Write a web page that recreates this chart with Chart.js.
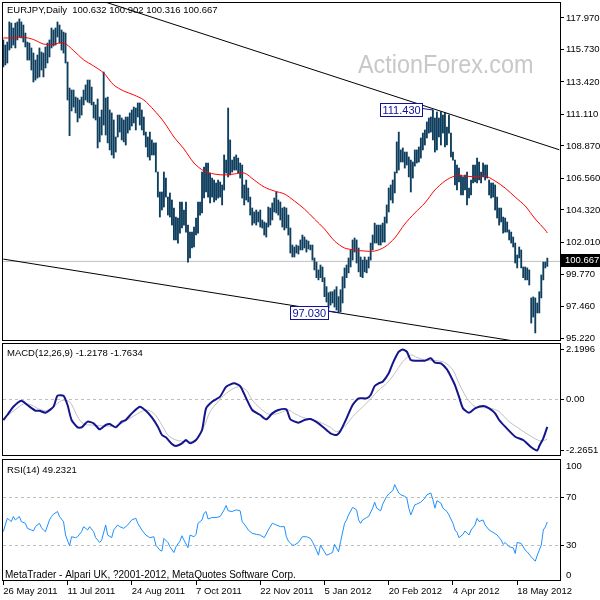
<!DOCTYPE html>
<html><head><meta charset="utf-8">
<script src="https://cdn.jsdelivr.net/npm/chart.js@4.4.1/dist/chart.umd.min.js"></script>
<style>
html,body{margin:0;padding:0;background:#fff;width:600px;height:600px;overflow:hidden}
canvas{position:absolute;left:0}
#main{top:0px}
#macd{top:340px}
#rsi{top:458px}
</style></head><body>
<canvas id="main" width="600" height="348"></canvas>
<canvas id="macd" width="600" height="118"></canvas>
<canvas id="rsi" width="600" height="142"></canvas>
<script>
// ---------- DATA ----------
const symbol = 'EURJPY,Daily';
const lastOHLC = [100.632, 100.902, 100.316, 100.667];
const highs = [
116.41,116.05,116.26,117.69,117.61,117.26,117.61,117.69,117.90,117.69,
117.47,116.90,116.26,116.19,115.84,115.48,114.98,115.34,115.84,115.55,
115.48,115.91,116.19,116.41,117.26,117.12,117.26,117.69,117.47,117.12,
116.97,116.90,114.84,112.99,112.85,112.85,112.35,112.28,112.14,112.35,
112.85,113.21,113.56,113.56,113.06,111.99,111.79,112.21,110.93,111.43,
114.13,112.28,112.35,111.43,111.22,110.72,109.51,111.07,111.07,110.86,
110.72,110.93,110.93,111.22,111.43,111.64,111.57,111.93,111.93,111.43,
110.93,109.86,109.51,109.86,109.30,109.09,109.09,107.02,105.60,105.60,
107.02,106.59,105.24,105.53,105.03,104.46,103.82,103.75,104.89,104.89,
104.32,104.89,103.25,102.75,102.75,103.11,103.75,104.89,104.89,107.02,
107.37,107.66,107.66,106.95,106.59,106.45,106.24,106.45,106.31,106.10,
108.23,107.87,111.57,109.30,107.87,108.09,108.23,108.01,107.66,107.52,
106.10,106.45,105.88,105.24,104.46,104.18,104.32,104.18,104.32,103.61,
103.47,103.39,104.53,104.46,104.82,105.17,105.60,105.03,104.89,104.46,
104.53,104.46,103.96,103.04,101.83,101.69,101.83,101.76,102.19,102.54,
102.40,102.19,102.11,101.83,101.83,100.91,100.62,100.06,100.41,100.27,
99.51,98.87,98.44,98.51,98.51,98.65,98.87,98.16,98.65,99.58,
100.20,100.41,100.91,101.48,102.19,102.33,102.19,101.62,100.98,100.76,
100.98,100.76,100.98,101.97,102.54,103.39,103.25,103.25,103.25,103.39,
103.82,104.68,105.88,106.10,106.45,107.02,109.16,109.86,108.59,108.73,
108.44,108.44,108.09,107.87,107.73,108.59,108.59,108.80,109.44,109.79,
110.01,110.58,110.86,110.93,111.43,110.86,111.29,110.86,111.29,111.07,
111.22,110.22,111.07,109.79,108.44,107.87,107.52,107.30,106.81,106.67,
106.81,107.02,105.88,106.45,107.52,107.52,108.01,107.73,107.02,107.66,
107.52,107.52,106.45,106.24,106.24,106.10,105.24,104.46,104.46,103.82,
103.75,103.47,102.90,102.75,102.40,101.97,101.12,101.69,101.48,100.27,
100.27,100.20,100.06,98.07,98.14,98.07,97.71,98.51,99.70,100.62,
100.62,100.902];
const lows = [
114.49,114.63,114.77,115.69,115.84,116.05,115.84,116.41,116.62,116.55,
116.26,115.91,114.98,114.98,114.27,113.42,113.56,113.70,113.78,114.27,
113.78,114.42,114.77,115.20,115.84,115.98,116.05,116.62,116.19,115.69,
115.48,114.77,112.14,109.60,111.36,111.64,111.22,110.58,110.86,111.07,
111.79,112.14,111.99,111.93,111.79,110.86,110.72,108.73,109.16,109.65,
110.36,109.65,109.09,108.59,108.23,108.01,108.44,109.51,109.86,109.30,
109.16,108.94,109.79,110.01,110.29,110.51,110.01,110.93,110.36,110.01,
109.65,108.80,108.09,107.87,108.23,108.23,107.02,105.24,103.82,104.32,
104.53,105.24,103.96,103.82,103.25,102.19,102.19,101.97,102.68,103.04,
103.25,102.75,100.62,100.91,101.62,101.69,102.54,102.68,103.96,104.11,
105.17,105.60,105.24,104.82,105.24,104.89,105.03,105.17,105.24,104.68,
105.74,106.95,106.67,106.81,107.02,107.16,107.16,106.95,106.59,105.17,
104.68,105.03,104.89,103.96,103.25,103.39,103.25,103.47,103.11,103.04,
102.54,102.40,103.11,103.25,103.61,104.18,104.11,103.96,103.61,103.11,
102.90,103.04,102.54,101.26,100.98,100.98,101.26,101.19,101.48,101.48,
101.62,101.33,101.55,101.48,100.76,100.06,99.51,99.35,99.51,99.22,
98.16,97.78,97.35,97.56,97.71,97.42,97.21,97.03,97.07,97.71,
98.78,99.51,99.85,100.27,100.76,101.33,100.55,99.92,99.58,99.51,
99.92,99.85,100.20,100.76,101.48,101.97,101.97,101.83,101.83,102.04,
102.04,103.39,104.18,105.03,104.82,105.53,106.95,107.16,107.73,107.73,
107.30,107.52,106.67,105.60,106.59,107.44,107.66,107.73,108.01,108.59,
108.94,109.44,109.79,109.86,109.30,108.44,108.59,109.51,108.94,109.79,
108.80,108.94,109.79,108.09,107.87,106.10,105.74,106.31,105.39,105.39,
105.74,104.68,105.17,105.39,106.24,106.31,106.24,106.45,106.24,106.67,
106.45,106.59,105.39,105.17,105.24,104.32,103.75,103.25,103.47,102.68,
102.75,102.75,102.19,101.97,101.69,100.55,100.20,100.91,100.20,99.51,
99.35,99.35,98.99,96.28,96.71,95.58,97.00,97.00,98.07,99.35,
100.20,100.316];

const maIdx = [0,5,10,15,20,25,30,35,40,45,50,55,60,65,70,75,80,85,90,95,100,105,110,115,120,125,130,135,140,145,150,155,160,165,170,175,180,185,190,195,200,205,210,215,220,225,230,235,240,245,250,255,260,265,270,271];
const maVal = [116.55,116.55,116.60,116.44,116.12,116.10,116.21,115.65,115.00,114.56,114.06,113.21,112.78,112.50,112.14,111.43,110.58,109.51,108.66,107.66,107.09,106.88,106.81,106.88,106.95,106.45,105.95,105.67,105.46,104.96,104.39,103.68,102.97,102.12,101.62,101.48,101.40,101.40,101.69,102.33,103.32,104.11,104.82,105.74,106.38,106.74,106.74,106.67,106.74,106.38,105.88,105.24,104.60,103.68,102.90,102.68];

const upperLineIdx = [30, 277];
const upperLineVal = [120.07, 108.60];
const lowerLineIdx = [0, 277];
const lowerLineVal = [100.83, 94.49];

const markHighIdx = 214, markHighText = '111.430';
const markLowIdx = 167, markLowText = '97.030';

const priceTicks = [117.970,115.730,113.420,111.110,108.870,106.560,104.320,102.010,99.770,97.460,95.220];

const macdIdx = [0,2,5,9,12,16,18,21,25,27,30,32,34,37,39,42,45,48,51,53,56,59,61,64,68,71,74,77,79,81,84,86,89,91,93,96,99,101,104,108,111,115,118,121,124,128,131,134,137,141,143,147,150,153,157,160,163,166,168,171,174,177,181,183,185,187,189,192,194,197,199,201,203,206,210,213,215,218,221,223,225,227,229,232,235,239,242,245,247,250,255,259,263,266,267,269,271];
const macdVal = [-0.917,-0.696,-0.329,-0.063,-0.254,-0.505,-0.505,-0.593,-0.329,0.158,0.158,-0.254,-0.917,-1.242,-1.242,-0.990,-1.064,-1.330,-1.138,-1.094,-1.242,-0.990,-0.917,-0.623,-0.329,-0.505,-0.800,-1.212,-1.580,-1.684,-1.978,-2.067,-1.949,-1.801,-1.949,-1.801,-1.360,-0.402,-0.107,0.114,0.556,0.703,0.586,0.041,-0.475,-0.696,-0.888,-0.623,-0.475,-0.446,-0.888,-1.035,-0.917,-0.873,-1.064,-1.286,-1.507,-1.580,-1.389,-0.844,-0.254,0.041,0.041,0.188,0.586,0.703,0.777,1.146,1.589,2.103,2.200,2.103,1.735,1.705,1.705,1.809,1.617,1.589,1.323,0.998,0.630,0.114,-0.402,-0.593,-0.402,-0.298,-0.402,-0.623,-0.917,-1.212,-1.654,-1.801,-2.124,-2.265,-2.067,-1.728,-1.218];
const sigIdx = [0,4,10,14,17,21,25,29,33,37,40,44,50,56,59,65,71,75,79,82,86,92,96,100,103,107,111,117,121,124,128,132,136,142,145,149,155,159,163,166,170,174,180,184,187,191,195,199,203,206,210,216,220,224,227,231,235,239,243,247,252,258,264,268,271];
const sigVal = [-0.844,-0.593,-0.210,-0.254,-0.402,-0.505,-0.329,-0.063,-0.107,-0.770,-1.094,-1.138,-1.182,-1.182,-1.064,-0.741,-0.475,-0.623,-1.138,-1.580,-1.801,-1.875,-1.801,-1.212,-0.549,-0.107,0.261,0.556,0.409,-0.033,-0.402,-0.652,-0.652,-0.475,-0.623,-0.800,-0.917,-1.064,-1.242,-1.433,-1.212,-0.770,-0.254,0.114,0.409,0.703,1.146,1.661,1.956,1.853,1.735,1.705,1.617,1.293,0.703,0.041,-0.329,-0.373,-0.402,-0.549,-0.990,-1.360,-1.700,-1.850,-1.763];
const macdTicks = [2.1996, 0, -2.2651];
const macdTickLabels = ['2.1996', '0.00', '-2.2651'];
const macdTitle = 'MACD(12,26,9) -1.2178 -1.7634';

const rsiIdx = [0,1,2,4,5,6,8,9,11,12,14,15,16,18,19,20,21,23,24,25,27,28,30,31,33,34,36,37,39,40,42,43,45,46,48,49,51,52,54,55,57,58,60,62,64,66,67,69,71,73,75,76,78,79,80,82,83,85,86,88,89,90,92,93,95,96,97,99,100,101,102,104,106,108,110,111,112,114,116,118,119,121,122,124,126,128,130,132,134,136,138,140,141,142,144,145,147,149,151,153,154,156,157,158,160,161,163,164,165,167,168,170,171,172,174,176,177,178,179,181,182,184,185,186,188,189,191,192,194,195,197,198,200,201,202,203,205,206,208,210,211,213,214,215,216,218,219,221,222,224,225,226,227,229,230,232,233,235,236,237,239,240,242,244,246,248,249,250,252,254,255,256,258,260,261,263,265,266,268,269,270,271];
const rsiVal = [41.1,46.7,52.3,49.5,53.7,50.9,53.7,49.5,48.1,43.9,42.5,41.7,45.3,48.1,44.5,42.5,41.1,50.9,53.7,55.7,57.9,53.7,49.5,38.3,29.3,36.9,36.1,36.9,41.1,45.3,42.5,45.3,41.1,36.1,32.1,34.1,46.7,38.3,36.1,42.5,46.7,45.3,43.9,46.7,50.9,52.3,48.1,42.5,38.3,36.1,36.9,29.9,25.7,24.9,35.5,32.1,28.5,23.7,28.5,33.3,37.7,34.1,27.7,38.3,36.9,38.9,48.1,50.9,56.5,57.9,51.7,52.9,52.9,53.7,59.3,62.9,58.5,57.9,59.3,58.5,49.5,45.3,42.5,39.7,38.9,38.3,36.1,42.5,48.1,46.7,45.3,45.3,36.9,33.3,29.9,29.9,32.1,36.9,36.9,35.5,32.7,25.7,21.5,29.9,24.3,21.5,22.9,23.7,30.5,24.3,32.7,48.1,50.9,55.1,61.3,59.3,50.9,48.1,50.9,52.9,53.7,60.7,65.7,60.7,58.5,64.1,70.5,72.5,75.3,80.3,73.3,71.9,70.5,69.1,60.7,55.1,63.5,64.1,65.7,69.1,71.9,73.3,67.7,60.7,66.9,64.9,60.7,57.9,55.1,48.1,42.5,40.5,36.1,38.9,41.7,38.3,42.5,46.7,52.3,49.5,50.9,46.7,42.5,40.5,38.3,34.1,30.5,32.1,28.5,27.7,22.9,32.1,31.3,25.7,24.3,20.1,16.5,21.5,29.9,42.5,45.0,49.23];
const rsiTicks = [95.25, 70, 30, 5];
const rsiTickLabels = ['100', '70', '30', '0'];
const rsiLevels = [70, 30];
const rsiTitle = 'RSI(14) 49.2321';

const dateTickIdx = [0,32,64,96,128,160,192,224,256];
const dateTickLabels = ['26 May 2011','11 Jul 2011','24 Aug 2011','7 Oct 2011','22 Nov 2011','5 Jan 2012','20 Feb 2012','4 Apr 2012','18 May 2012'];
const footer = 'MetaTrader - Alpari UK, ?2001-2012, MetaQuotes Software Corp.';
const watermark = 'ActionForex.com';

// ---------- CONFIG ----------
const FONT = "'Liberation Sans', Arial, Helvetica, sans-serif";
const XMIN = -0.65, XMAX = 277.32;
const PMIN = 95.007, PMAX = 119.107;
const MMIN = -2.508, MMAX = 2.487;
const RMIN = 0, RMAX = 101.67;
const pts = (xs, ys) => xs.map((x, i) => ({x, y: ys[i]}));
const noPad = s => { s.paddingTop = 0; s.paddingBottom = 0; s.paddingLeft = 0; s.paddingRight = 0; };

function hiddenX() { return {type:'linear', min:XMIN, max:XMAX, offset:false, display:false}; }
function rightY(min, max, tickVals, fmt, tickColor) {
  return {
    position:'right', min, max, beginAtZero:false,
    afterBuildTicks: s => { s.ticks = tickVals.map(v => ({value:v})); },
    afterFit: s => { s.width = 40; noPad(s); },
    ticks: {callback: fmt, color:'#000', font:{family:FONT, size:9.5}, padding:2, autoSkip:false, maxRotation:0},
    grid: {drawOnChartArea:false, drawTicks:true, tickLength:4, color:'#000', tickColor: tickColor || '#000'},
    border: {display:false}
  };
}
const frame = {
  id:'frame',
  afterDraw(chart) {
    const {ctx, chartArea:a} = chart;
    ctx.save(); ctx.strokeStyle = '#000'; ctx.lineWidth = 1;
    ctx.strokeRect(a.left + 0.5, a.top + 0.5, a.right - a.left, a.bottom - a.top - 1);
    ctx.restore();
  }
};
function levels(vals) {
  return {
    id:'levels',
    beforeDatasetsDraw(chart) {
      const {ctx, chartArea:a, scales:{y}} = chart;
      ctx.save(); ctx.strokeStyle = '#c0c0c0'; ctx.lineWidth = 1; ctx.setLineDash([3,3]);
      vals.forEach(v => { const py = Math.round(y.getPixelForValue(v)) + 0.5; ctx.beginPath(); ctx.moveTo(a.left + 1, py); ctx.lineTo(a.right, py); ctx.stroke(); });
      ctx.restore();
    }
  };
}
function label(text, x, y, size) {
  return {
    id:'lbl' + Math.random(),
    afterDraw(chart) {
      const ctx = chart.ctx; ctx.save(); ctx.fillStyle = '#000'; ctx.font = size + 'px ' + FONT;
      ctx.textBaseline = 'middle'; ctx.textAlign = 'left'; ctx.fillText(text, x, y); ctx.restore();
    }
  };
}
function tag(ctx, text, bx, by) {
  ctx.save();
  ctx.font = '11px ' + FONT;
  const w = Math.round(ctx.measureText(text).width + 4), h = 13;
  const right = Math.round(bx - 11), left = right - w, top = Math.round(by - h / 2);
  ctx.fillStyle = '#fff'; ctx.fillRect(left, top, w, h);
  ctx.strokeStyle = '#10109a'; ctx.lineWidth = 1;
  ctx.strokeRect(left + 0.5, top + 0.5, w, h);
  ctx.beginPath(); ctx.moveTo(right + 0.5, by - 1.5); ctx.lineTo(bx, by); ctx.stroke();
  ctx.fillStyle = '#10109a'; ctx.textBaseline = 'middle'; ctx.fillText(text, left + 2.5, top + h / 2 + 1);
  ctx.restore();
}
const common = {responsive:false, animation:false, devicePixelRatio:1, events:[],
  plugins:{legend:{display:false}, tooltip:{enabled:false}}};

// ---------- MAIN PANEL ----------
const mainPlugin = {
  id:'mainDeco',
  beforeDatasetsDraw(chart) {
    const ctx = chart.ctx;
    ctx.save(); ctx.fillStyle = '#c8c8c8'; ctx.font = '26px ' + FONT; ctx.textBaseline = 'alphabetic';
    ctx.translate(358, 73); ctx.scale(0.9, 1); ctx.fillText(watermark, 0, 0); ctx.restore();
    ctx.save(); ctx.fillStyle = '#000'; ctx.font = '9.5px ' + FONT; ctx.textBaseline = 'middle';
    ctx.fillText(symbol + '  ' + lastOHLC.map(v => v.toFixed(3)).join(' '), 7, 10.5); ctx.restore();
  },
  afterDatasetsDraw(chart) {
    const {ctx, scales:{x, y}} = chart;
    tag(ctx, markHighText, x.getPixelForValue(markHighIdx), y.getPixelForValue(highs[markHighIdx]));
    tag(ctx, markLowText, x.getPixelForValue(markLowIdx), y.getPixelForValue(lows[markLowIdx]));
  },
  afterDraw(chart) {
    const {ctx, chartArea:a, scales:{y}} = chart;
    const py = y.getPixelForValue(lastOHLC[3]);
    ctx.save(); ctx.fillStyle = '#000'; ctx.fillRect(a.right + 1, Math.round(py) - 7, 39, 13);
    ctx.fillStyle = '#fff'; ctx.font = '9.5px ' + FONT; ctx.textBaseline = 'middle';
    ctx.fillText(lastOHLC[3].toFixed(3), a.right + 5, Math.round(py) - 0.5); ctx.restore();
  }
};
new Chart(document.getElementById('main'), {
  type:'bar',
  data:{datasets:[
    {type:'line', data:[{x:XMIN, y:lastOHLC[3]}, {x:XMAX, y:lastOHLC[3]}], borderColor:'#c0c0c0', borderWidth:1, pointRadius:0, order:10},
    {type:'bar', data:highs.map((h, i) => ({x:i, y:[lows[i], h]})), backgroundColor:'#0e3e5e', borderWidth:0, barThickness:1.2, order:3},
    {type:'line', data:pts(maIdx, maVal), borderColor:'#ff0000', borderWidth:1, pointRadius:0, tension:0.3, order:1},
    {type:'line', data:pts(upperLineIdx, upperLineVal), borderColor:'#000', borderWidth:1, pointRadius:0, order:0},
    {type:'line', data:pts(lowerLineIdx, lowerLineVal), borderColor:'#000', borderWidth:1, pointRadius:0, order:0}
  ]},
  options:Object.assign({}, common, {
    layout:{padding:{left:2, top:2, right:0, bottom:7}},
    scales:{x:hiddenX(), y:rightY(PMIN, PMAX, priceTicks, v => v.toFixed(3))}
  }),
  plugins:[mainPlugin, frame]
});

// ---------- MACD PANEL ----------
new Chart(document.getElementById('macd'), {
  type:'line',
  data:{datasets:[
    {data:pts(sigIdx, sigVal), borderColor:'#c0c0c0', borderWidth:1, pointRadius:0, tension:0.3, order:2},
    {data:pts(macdIdx, macdVal), borderColor:'#14148c', borderWidth:2, pointRadius:0, tension:0.2, order:1}
  ]},
  options:Object.assign({}, common, {
    layout:{padding:{left:2, top:3, right:0, bottom:2}},
    scales:{x:hiddenX(), y:rightY(MMIN, MMAX, macdTicks, v => macdTickLabels[macdTicks.indexOf(v)])}
  }),
  plugins:[levels([0]), frame, label(macdTitle, 7, 13, 9.5)]
});

// ---------- RSI PANEL ----------
new Chart(document.getElementById('rsi'), {
  type:'line',
  data:{datasets:[
    {data:pts(rsiIdx, rsiVal), borderColor:'#1e90ff', borderWidth:1, pointRadius:0, tension:0}
  ]},
  options:Object.assign({}, common, {
    layout:{padding:{left:2, top:1, right:0, bottom:0}},
    scales:{
      x:{type:'linear', min:XMIN, max:XMAX, offset:false, position:'bottom',
        afterBuildTicks: s => { s.ticks = dateTickIdx.map(v => ({value:v})); },
        afterFit: s => { s.height = 19; noPad(s); },
        ticks:{callback: v => dateTickLabels[dateTickIdx.indexOf(v)], align:'start', maxRotation:0, minRotation:0, autoSkip:false, padding:1, color:'#000', font:{family:FONT, size:9.5}},
        grid:{drawOnChartArea:false, drawTicks:true, tickLength:4, color:'#000'},
        border:{display:false}},
      y:rightY(RMIN, RMAX, rsiTicks, v => rsiTickLabels[rsiTicks.indexOf(v)],
        c => (c.tick && (c.tick.value === 70 || c.tick.value === 30)) ? '#000' : 'rgba(0,0,0,0)')
    }
  }),
  plugins:[levels(rsiLevels), frame, label(rsiTitle, 7, 12, 9.5), label(footer, 5, 117, 10)]
});
</script></body></html>
